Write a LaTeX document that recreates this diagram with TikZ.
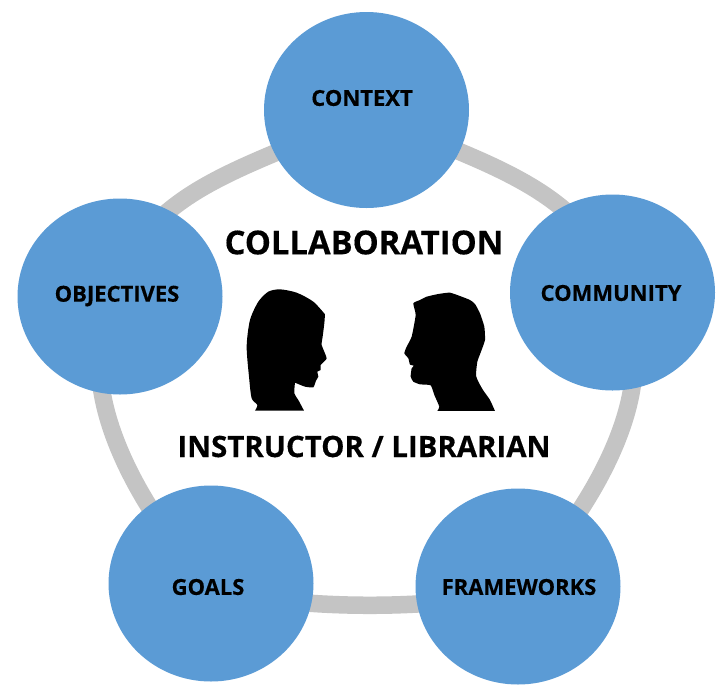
\documentclass[tikz,border=0pt]{standalone}
\usepackage{fontspec}
\setmainfont{Open Sans}[BoldFeatures={FakeBold=0.35}]
\usetikzlibrary{shapes.geometric}
\definecolor{blob}{HTML}{5B9BD5}
\definecolor{ringc}{HTML}{C4C4C4}
\tikzset{
  topic/.style={ellipse,fill=blob,minimum width=205pt,minimum height=196pt,inner sep=0pt},
  ringarc/.style={draw=ringc,line width=17.5pt},
  toplabel/.style={font=\fontsize{22}{26}\selectfont\bfseries,text=black,inner sep=0pt},
  biglabel/.style={font=\fontsize{32.8}{38}\selectfont\bfseries,text=black,inner sep=0pt},
  midlabel/.style={font=\fontsize{29.4}{34}\selectfont\bfseries,text=black,inner sep=0pt},
  head/.style={fill=black,draw=none}
}
\begin{document}
\begin{tikzpicture}[x=1pt,y=-1pt]
\useasboundingbox[fill=white] (0,0) rectangle (726,689);
\coordinate (ctxc) at (366.5,110);
\coordinate (comc) at (612.5,292.5);
\coordinate (objc) at (120,296.5);
\coordinate (goac) at (211,583.5);
\coordinate (frac) at (518,586.5);
% ring
\draw[ringarc] (ctxc) .. controls (287,160) and (133,181.5) .. (objc);
\draw[ringarc] (objc) .. controls (57,381) and (154,532) .. (goac);
\draw[ringarc] (goac) .. controls (262,612) and (467,612) .. (frac);
\draw[ringarc] (frac) .. controls (573,534.5) and (680,382.5) .. (comc);
\draw[ringarc] (comc) .. controls (596,180) and (442,154) .. (ctxc);
% circles
\node[topic] (context) at (ctxc) {};
\node[topic] (community) at (comc) {};
\node[topic] (objectives) at (objc) {};
\node[topic] (goals) at (goac) {};
\node[topic] (frameworks) at (frac) {};
% labels
\node[toplabel] (lctx) at (362,98) {CONTEXT};
\node[toplabel] (lcom) at (611,293) {COMMUNITY};
\node[toplabel] (lobj) at (117,296) {OBJECTIVES};
\node[toplabel] (lgoa) at (208,587) {GOALS};
\node[toplabel] (lfra) at (519,587) {FRAMEWORKS};
\node[biglabel] (collab) at (364,242.5) {COLLABORATION};
\node[midlabel] (instr) at (364,446.5) {INSTRUCTOR / LIBRARIAN};
% woman
\begin{scope}[shift={(230,280)},x=0.3333pt,y=-0.3333pt]
\fill[head] plot[smooth,tension=.45] coordinates {(75,392) (82,375) (65,355) (58,300) (50,200) (60,120) (85,65) (115,35) (150,28) (200,38) (250,65) (285,103)} -- plot[smooth,tension=.3] coordinates {(285,103) (283,130) (278,170) (275,195) (290,235) (272,255) (272,270) (262,275) (265,290) (258,302) (250,322) (225,320) (195,308)} -- plot[smooth,tension=.4] coordinates {(195,308) (193,340) (205,360) (222,392)} -- cycle;
\end{scope}
% man
\begin{scope}[shift={(395,280)},x=0.3333pt,y=-0.3333pt]
\fill[head] plot[smooth,tension=.3] coordinates {(127,393) (133,380) (118,345) (107,316) (75,313) (55,305) (47,290) (50,265) (57,257) (45,254) (40,235) (28,220) (35,200) (50,170) (62,105) (55,70) (75,60) (95,50) (130,42) (165,38) (200,50) (225,60) (240,72) (255,100) (268,140) (270,180) (258,215) (247,245) (243,285) (250,305) (264,330) (285,360) (300,393)} -- cycle;
\end{scope}
\end{tikzpicture}
\end{document}
